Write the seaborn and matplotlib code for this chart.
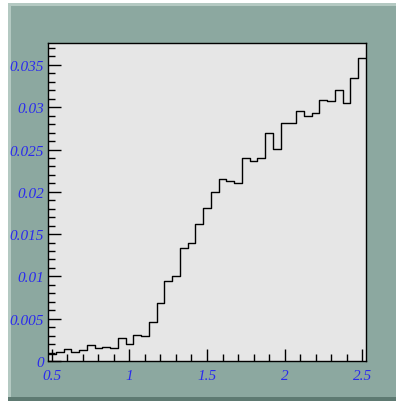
import numpy as np
import pandas as pd
import seaborn as sns
import matplotlib
matplotlib.use("Agg")
import matplotlib.pyplot as plt
from matplotlib.patches import Rectangle
from matplotlib.ticker import FixedLocator, FixedFormatter, MultipleLocator

# ---- data ----
bin_centers = [round(0.5 + 0.05 * i, 3) for i in range(41)]
bin_values = [0.0008, 0.0011, 0.0014, 0.0011, 0.0013, 0.0019, 0.0015, 0.0017,
              0.0015, 0.0027, 0.0020, 0.0031, 0.0030, 0.0046, 0.0069, 0.0094,
              0.0101, 0.0134, 0.0140, 0.0162, 0.0181, 0.0200, 0.0215, 0.0213,
              0.0211, 0.0240, 0.0237, 0.0240, 0.0269, 0.0251, 0.0281, 0.0281,
              0.0296, 0.0290, 0.0293, 0.0309, 0.0307, 0.0320, 0.0305, 0.0334,
              0.0358]
bin_edges = [round(0.475 + 0.05 * i, 3) for i in range(42)]
x_ticks = [0.5, 1.0, 1.5, 2.0, 2.5]
x_tick_labels = ["0.5", "1", "1.5", "2", "2.5"]
y_ticks = [0.0, 0.005, 0.01, 0.015, 0.02, 0.025, 0.03, 0.035]
y_tick_labels = ["0", "0.005", "0.01", "0.015", "0.02", "0.025", "0.03", "0.035"]

df = pd.DataFrame({"x": bin_centers, "w": bin_values})

sns.set_style("ticks")
W, H = 396, 402
fig = plt.figure(figsize=(W / 100, H / 100), dpi=100)
fig.patch.set_facecolor("white")

# ROOT-like canvas frame
panel = "#8ca8a0"
fig.patches.append(Rectangle((8 / W, 0), 1 - 8 / W, 1 - 4 / H, transform=fig.transFigure,
                             facecolor=panel, edgecolor="none", zorder=-10))
fig.patches.append(Rectangle((8 / W, 1 - 7 / H), 1 - 8 / W, 3 / H, transform=fig.transFigure,
                             facecolor="#b4c9c2", edgecolor="none", zorder=-9))
fig.patches.append(Rectangle((8 / W, 0), 3 / W, 1 - 4 / H, transform=fig.transFigure,
                             facecolor="#b4c9c2", edgecolor="none", zorder=-9))
fig.patches.append(Rectangle((8 / W, 0), 1 - 8 / W, 4 / H, transform=fig.transFigure,
                             facecolor="#5e7a72", edgecolor="none", zorder=-8))

ax = fig.add_axes([48 / W, (H - 362) / H, 318 / W, 318 / H])
ax.set_facecolor("#e6e6e6")

sns.histplot(data=df, x="x", weights="w", bins=bin_edges, element="step",
             fill=False, color="black", linewidth=1.0, ax=ax)

ax.set_xlim(bin_edges[0], bin_edges[-1])
ax.set_ylim(0, max(bin_values) * 1.05)
ax.set_xlabel("")
ax.set_ylabel("")

ax.xaxis.set_major_locator(FixedLocator(x_ticks))
ax.xaxis.set_major_formatter(FixedFormatter(x_tick_labels))
ax.xaxis.set_minor_locator(MultipleLocator(0.1))
ax.yaxis.set_major_locator(FixedLocator(y_ticks))
ax.yaxis.set_major_formatter(FixedFormatter(y_tick_labels))
ax.yaxis.set_minor_locator(MultipleLocator(0.001))

ax.tick_params(axis="both", which="major", direction="in", length=9, width=1,
               color="black")
ax.tick_params(axis="both", which="minor", direction="in", length=5, width=1,
               color="black")
ax.tick_params(axis="y", which="major", pad=3)
ax.tick_params(axis="x", which="major", pad=6)
ax.tick_params(top=False, right=False, which="both")

for lab in ax.get_xticklabels() + ax.get_yticklabels():
    lab.set_fontfamily(["Liberation Serif", "DejaVu Serif"])
    lab.set_fontstyle("italic")
    lab.set_fontsize(11)
    lab.set_color("#2a2aee")

for s in ax.spines.values():
    s.set_visible(True)
    s.set_color("black")
    s.set_linewidth(1.0)

fig.savefig("out.png", dpi=100, facecolor=fig.get_facecolor())
